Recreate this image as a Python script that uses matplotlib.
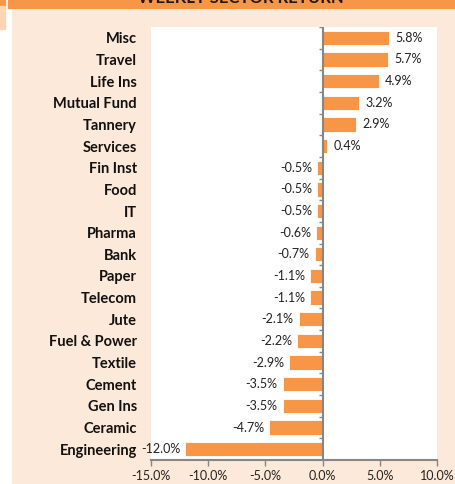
import matplotlib.pyplot as plt
import matplotlib.patches as mpatches
import numpy as np

plt.rcParams['font.family'] = ['Lato', 'DejaVu Sans']

# data, top to bottom as in the picture
sectors = ['Misc', 'Travel', 'Life Ins', 'Mutual Fund', 'Tannery', 'Services',
           'Fin Inst', 'Food', 'IT', 'Pharma', 'Bank', 'Paper', 'Telecom',
           'Jute', 'Fuel & Power', 'Textile', 'Cement', 'Gen Ins', 'Ceramic',
           'Engineering']
returns = [5.8, 5.7, 4.9, 3.2, 2.9, 0.4, -0.5, -0.5, -0.5, -0.6, -0.7, -1.1,
           -1.1, -2.1, -2.2, -2.9, -3.5, -3.5, -4.7, -12.0]
xticks = [-15, -10, -5, 0, 5, 10]
title = 'WEEKLY SECTOR RETURN'

bar_col = '#F79646'
peach = '#FDE9D9'
grey = '#868686'

fig = plt.figure(figsize=(4.55, 4.84), dpi=100)
W, H = 455, 484

# background panels
fig.patches.append(mpatches.Rectangle((12 / W, 0), 1, 1 - 10 / H, transform=fig.transFigure,
                                      color=peach, zorder=-5))
fig.patches.append(mpatches.Rectangle((8 / W, 1 - 8.3 / H), 1, 8.3 / H, transform=fig.transFigure,
                                      color=bar_col, zorder=-5))
fig.patches.append(mpatches.Rectangle((0, 1 - 6 / H), 5 / W, 6 / H, transform=fig.transFigure,
                                      color=bar_col, zorder=-5))
fig.patches.append(mpatches.Rectangle((0, 1 - 29 / H), 5 / W, 23 / H, transform=fig.transFigure,
                                      color='#FCD5B4', zorder=-5))
fig.text(241 / W, 1 - 3 / H, title, ha='center', va='baseline', fontsize=12,
         fontweight='bold', color='#1a1a1a')

ax = fig.add_axes([151 / W, 1 - 460 / H, (437 - 151) / W, (460 - 27) / H])
ax.set_zorder(2)
ax.set_facecolor('white')

n = len(sectors)
y = np.arange(n)[::-1]
ax.barh(y, returns, height=0.66, color=bar_col, edgecolor='white', linewidth=0.6, zorder=2)

for yi, v in zip(y, returns):
    if v >= 0:
        ax.annotate(f'{v:.1f}%', (v, yi), xytext=(4.5, 0), textcoords='offset points',
                    ha='left', va='center', fontsize=9, color='#222222')
    else:
        ax.annotate(f'{v:.1f}%', (v, yi), xytext=(-3.5, 0), textcoords='offset points',
                    ha='right', va='center', fontsize=9, color='#222222')

ax.set_xlim(-15, 10)
ax.set_ylim(-0.5, n - 0.5)
ax.set_xticks(xticks)
ax.set_xticklabels([f'{t:.1f}%' for t in xticks], fontsize=9, color='#222222')
ax.set_yticks(y)
ax.set_yticklabels(sectors, fontsize=10.5, fontweight='bold', color='#111111')
ax.tick_params(axis='y', length=0, pad=10)
ax.tick_params(axis='x', length=4, width=1, color=grey, pad=3)

for s in ['left', 'right', 'top']:
    ax.spines[s].set_visible(False)
ax.spines['bottom'].set_color(grey)
ax.spines['bottom'].set_linewidth(1.5)

# category axis at zero with boundary ticks
ax.axvline(0, color=grey, linewidth=1.5, zorder=3)
bounds = np.arange(n + 1) - 0.5
ax.hlines(bounds, -0.35, 0, color=grey, linewidth=1, zorder=3)

fig.savefig('out.png', dpi=100)
